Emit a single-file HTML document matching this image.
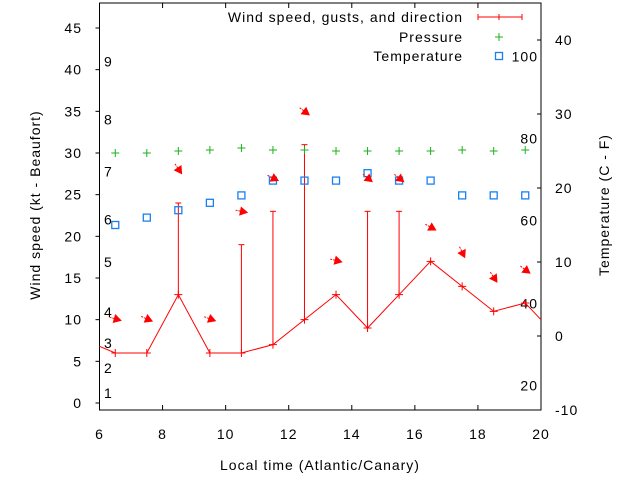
<!DOCTYPE html>
<html><head><meta charset="utf-8">
<style>
body{margin:0;background:#fff;}
svg{display:block;font-family:"Liberation Sans",sans-serif;}
svg text{letter-spacing:1px;}
</style></head>
<body>
<svg id="chart" width="640" height="480" viewBox="0 0 640 480" xmlns="http://www.w3.org/2000/svg">
<defs><clipPath id="clip"><rect x="99.5" y="3" width="441.5" height="407"/></clipPath></defs>
<g id="axes"></g>
<g id="plot" clip-path="url(#clip)"></g>
<g id="legend"></g>
</svg>
<script>
const hours = [6.5,7.5,8.5,9.5,10.5,11.5,12.5,13.5,14.5,15.5,16.5,17.5,18.5,19.5];
const windSpeed = [6,6,13,6,6,7,10,13,9,13,17,14,11,12];
const windEdgeStart = 6.8;
const windEdgeEnd = 10;
const gustHours = [8.5,10.5,11.5,12.5,14.5,15.5];
const gustValues = [24,19,23,31,23,23];
const pressure = [30,30,30.24,30.36,30.6,30.36,30.36,30.24,30.24,30.24,30.24,30.36,30.24,30.36];
const temperature = [15,16,17,18,19,21,21,21,22,21,21,19,19,19];
const arrowY = [10.1,10.1,28.1,10.1,23,27,35,17.1,27,27,21.1,18.1,15.1,16];
const arrowAngle = [16,23,56,20,11,26,37,14,39,38,29,64,56,37];
const xTicks = [6,8,10,12,14,16,18,20];
const yTicks = [0,5,10,15,20,25,30,35,40,45];
const y2Ticks = [-10,0,10,20,30,40];
const beaufortLabels = ["1","2","3","4","5","6","7","8","9"];
const beaufortY = [1.2,4.2,7.2,10.9,16.9,22,27.8,34,41];
const fahrLabels = ["100","80","60","40","20"];
const fahrY = [37.8,26.7,15.6,4.4,-6.7];

const L=99.5,R=541,T=3,B=410;
const FS=14;
const xS=h=>L+(h-6)*(R-L)/14;
const yS=v=>403-v*(403-28)/45;
const y2S=v=>336-v*7.4;
const NS="http://www.w3.org/2000/svg";
function mk(tag,attrs,parent,text){const e=document.createElementNS(NS,tag);for(const k in attrs)e.setAttribute(k,attrs[k]);if(text!==undefined)e.textContent=text;parent.appendChild(e);return e;}
const axes=document.getElementById('axes'),plot=document.getElementById('plot'),leg=document.getElementById('legend');

let e=mk('rect',{x:L,y:T,width:R-L,height:B-T,fill:'none',stroke:'#000','stroke-width':1},axes);


xTicks.forEach(t=>{
 const x=xS(t);
 mk('line',{x1:x,y1:B,x2:x,y2:B-5,stroke:'#000'},axes);
 mk('line',{x1:x,y1:T,x2:x,y2:T+5,stroke:'#000'},axes);
 const t2=mk('text',{x:x,y:439,'text-anchor':'middle','font-size':FS},axes,String(t));
 
 
});
yTicks.forEach(t=>{
 const y=yS(t);
 mk('line',{x1:L-4,y1:y,x2:L,y2:y,stroke:'#000'},axes);
 const t2=mk('text',{x:82,y:y+5,'text-anchor':'end','font-size':FS},axes,String(t));
 
 
});
y2Ticks.forEach(t=>{
 const y=y2S(t);
 mk('line',{x1:R-4,y1:y,x2:R,y2:y,stroke:'#000'},axes);
 const t2=mk('text',{x:555,y:y+5,'font-size':FS},axes,String(t));
 
 
});
beaufortLabels.forEach((s,i)=>{
 const t2=mk('text',{x:104,y:yS(beaufortY[i])+5,'font-size':FS},axes,s);
 
 
});
fahrLabels.forEach((s,i)=>{
 const t2=mk('text',{x:538,y:y2S(fahrY[i])+5,'text-anchor':'end','font-size':FS},axes,s);
 
 
});
e=mk('text',{x:320,y:470,'text-anchor':'middle','font-size':FS},axes,'Local time (Atlantic/Canary)');


e=mk('text',{x:0,y:0,'text-anchor':'middle','font-size':FS,transform:'translate(40,205) rotate(-90)'},axes,'Wind speed (kt - Beaufort)');


e=mk('text',{x:0,y:0,'text-anchor':'middle','font-size':FS,transform:'translate(609,205) rotate(-90)'},axes,'Temperature (C - F)');



const red='#ff0000';
gustHours.forEach((h,i)=>{
 const x=xS(h),i0=hours.indexOf(h),y0=yS(windSpeed[i0]),y1=yS(gustValues[i]);
 const g=mk('g',{},plot);
 
 
 mk('line',{x1:x,y1:y0,x2:x,y2:y1,stroke:red},g);
 mk('line',{x1:x-3,y1:y1,x2:x+3,y2:y1,stroke:red},g);
});
let pts=[[6,windEdgeStart]].concat(hours.map((h,i)=>[h,windSpeed[i]])).concat([[20,windEdgeEnd]]);
e=mk('polyline',{points:pts.map(p=>xS(p[0])+','+yS(p[1])).join(' '),fill:'none',stroke:red,'stroke-width':1},plot);


hours.forEach((h,i)=>{
 const x=xS(h),y=yS(windSpeed[i]);
 const p=mk('path',{d:`M${x-4},${y}H${x+4}M${x},${y-4}V${y+4}`,stroke:red},plot);
 
 
});
pressure.forEach((v,i)=>{
 const x=xS(hours[i]),y=yS(v);
 const p=mk('path',{d:`M${x-4},${y}H${x+4}M${x},${y-4}V${y+4}`,stroke:'#19b319'},plot);
 
 
});
temperature.forEach((v,i)=>{
 const x=xS(hours[i]),y=y2S(v);
 const p=mk('rect',{x:x-3.5,y:y-3.5,width:7,height:7,fill:'none',stroke:'#1a80f0','stroke-width':1.3},plot);
 
 
});
arrowY.forEach((v,i)=>{
 const cx=xS(hours[i]),cy=yS(v),a=arrowAngle[i]*Math.PI/180;
 const dx=Math.cos(a)*6,dy=Math.sin(a)*6;
 const hx=cx+dx,hy=cy+dy,tx=cx-dx,ty=cy-dy;
 const g=mk('g',{},plot);
 
 
 mk('line',{x1:tx,y1:ty,x2:hx,y2:hy,stroke:red,'stroke-dasharray':'2,1'},g);
 const ux=Math.cos(a),uy=Math.sin(a);
 const bx=hx-ux*7,by=hy-uy*7;
 mk('polygon',{points:`${hx},${hy} ${bx-uy*4},${by+ux*4} ${bx+uy*4},${by-ux*4}`,fill:red,stroke:red,'stroke-width':0.8},g);
});
function legText(y,s,name){const t=mk('text',{x:463,y:y+5,'text-anchor':'end','font-size':FS},leg,s);}
legText(17,'Wind speed, gusts, and direction','legend-wind-label');
legText(37,'Pressure','legend-pressure-label');
legText(56,'Temperature','legend-temperature-label');
e=mk('path',{d:'M478,17H522M478,14V20M499,14V20M522,14V20',stroke:red},leg);


e=mk('path',{d:'M495,37H503M499,33V41',stroke:'#19b319'},leg);


e=mk('rect',{x:495.5,y:52.5,width:7,height:7,fill:'none',stroke:'#1a80f0','stroke-width':1.3},leg);


</script>
</body></html>
